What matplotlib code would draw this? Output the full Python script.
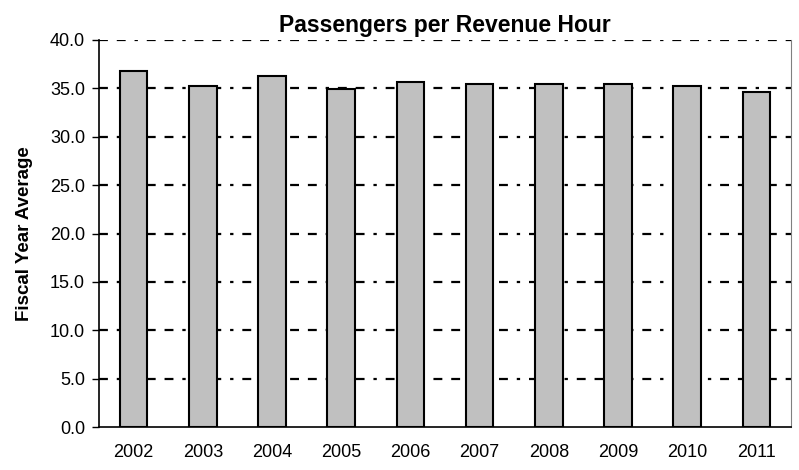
import matplotlib
matplotlib.use("Agg")
import matplotlib.pyplot as plt
import numpy as np

plt.rcParams['font.family'] = ['Liberation Sans', 'DejaVu Sans']

years = ['2002', '2003', '2004', '2005', '2006', '2007', '2008', '2009', '2010', '2011']
values = [36.8, 35.2, 36.3, 34.9, 35.7, 35.5, 35.5, 35.5, 35.2, 34.6]
yticks = [0, 5, 10, 15, 20, 25, 30, 35, 40]

fig = plt.figure(figsize=(7.99, 4.70), dpi=100)
ax = fig.add_axes([99 / 799, 43 / 470, 692 / 799, 387 / 470])

x = np.arange(len(years))
ax.bar(x, values, width=0.4, color='#c0c0c0', edgecolor='black', linewidth=1.5, zorder=3)

ax.set_xlim(-0.5, len(years) - 0.5)
ax.set_ylim(0, 40)
ax.set_yticks(yticks)
ax.set_yticklabels([f"{v:.1f}" for v in yticks], fontsize=13)
ax.set_xticks(x)
ax.set_xticklabels(years, fontsize=13)
ax.tick_params(axis='x', length=0, pad=12)
ax.tick_params(axis='y', direction='out', length=5, width=1, pad=5)

# dash-dash-dot gridlines like the Excel original
for v in yticks[1:]:
    ax.axhline(v, color='black', linewidth=1.6, linestyle=(0, (4, 4, 4, 4, 1.5, 4)), zorder=1)

ax.spines['top'].set_visible(False)
ax.spines['right'].set_color('#808080')
ax.spines['left'].set_linewidth(1.2)
ax.spines['bottom'].set_linewidth(1.2)

ax.set_title('Passengers per Revenue Hour', fontsize=16.5, fontweight='bold', pad=6)
ax.set_ylabel('Fiscal Year Average', fontsize=13.5, fontweight='bold', labelpad=12)

fig.savefig('out.png', dpi=100)
